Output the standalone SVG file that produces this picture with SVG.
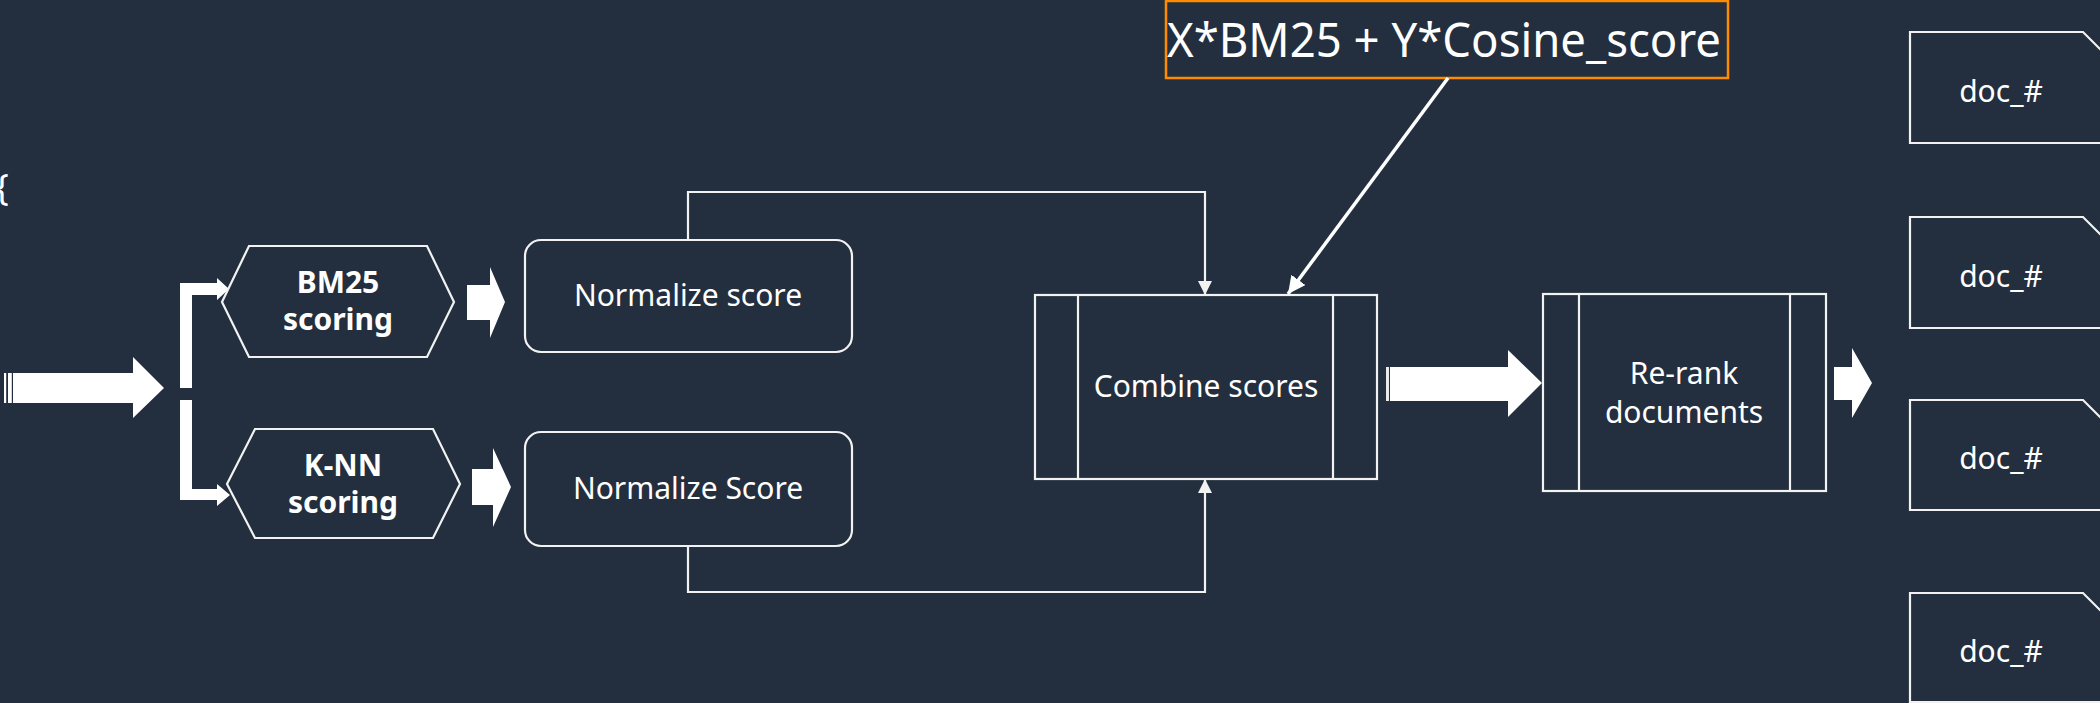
<svg xmlns="http://www.w3.org/2000/svg" width="2100" height="703" viewBox="0 0 2100 703">
<defs>
<style>
.bg{fill:#232f3e}
.box{fill:#232f3e;stroke:#f2f2f2;stroke-width:2.2}
.ln{fill:none;stroke:#f2f2f2;stroke-width:2.2}
.blk{fill:#ffffff}
.t{font-family:"Noto Sans","Open Sans","DejaVu Sans",sans-serif;fill:#ffffff;text-anchor:middle;font-size:30px}
.b{font-weight:bold}
</style>
<marker id="ah" viewBox="0 0 10 10" refX="10" refY="5" markerWidth="6.5" markerHeight="6.5" orient="auto" markerUnits="strokeWidth">
<path d="M0,0 L10,5 L0,10 Z" fill="#f2f2f2"/>
</marker>
<marker id="ah2" viewBox="0 0 10 10" refX="10" refY="5" markerWidth="5" markerHeight="5" orient="auto" markerUnits="strokeWidth">
<path d="M0,0 L10,5 L0,10 Z" fill="#ffffff"/>
</marker>
</defs>
<rect class="bg" x="0" y="0" width="2100" height="703"/>

<text class="t" x="-5" y="200" style="text-anchor:start;font-size:36px">{</text>

<g id="input-arrow">
<rect class="blk" x="4" y="373" width="2.2" height="30"/>
<rect class="blk" x="8" y="373" width="3.8" height="30"/>
<polygon class="blk" points="13,373 133,373 133,357 164,388 133,418 133,403 13,403"/>
</g>

<g id="split-arrows">
<polygon class="blk" points="180,388 180,283 217,283 217,278 229,289 217,300 217,295 192,295 192,388"/>
<polygon class="blk" points="180,400 192,400 192,489 217,489 217,484 230,495 217,506 217,500 180,500"/>
</g>

<g id="bm25">
<polygon class="box" points="222,302 249,246 427,246 454,302 427,357 249,357"/>
<text class="t b" x="338" y="293">BM25</text>
<text class="t b" x="338" y="330">scoring</text>
</g>

<g id="knn">
<polygon class="box" points="227,484 255,429 433,429 460,484 433,538 255,538"/>
<text class="t b" x="343" y="476">K-NN</text>
<text class="t b" x="343" y="513">scoring</text>
</g>

<g id="arrow-bm25">
<polygon class="blk" points="467,285 490,285 490,267 505,302 490,338 490,320 467,320"/>
</g>
<g id="arrow-knn">
<polygon class="blk" points="472,469 493,469 493,448 511,487 493,527 493,505 472,505"/>
</g>

<g id="normalize-1">
<rect class="box" x="525" y="240" width="327" height="112" rx="16"/>
<text class="t" x="688" y="306">Normalize score</text>
</g>

<g id="normalize-2">
<rect class="box" x="525" y="432" width="327" height="114" rx="16"/>
<text class="t" x="688" y="499">Normalize Score</text>
</g>

<g id="combine">
<rect class="box" x="1035" y="295" width="342" height="184"/>
<line class="ln" x1="1078" y1="295" x2="1078" y2="479"/>
<line class="ln" x1="1333" y1="295" x2="1333" y2="479"/>
<text class="t" x="1206" y="397">Combine scores</text>
</g>

<g id="arrow-combine">
<rect class="blk" x="1386" y="367" width="3" height="34" opacity="0.9"/>
<polygon class="blk" points="1390,367 1508,367 1508,350 1542,383 1508,417 1508,401 1390,401"/>
</g>

<g id="rerank">
<rect class="box" x="1543" y="294" width="283" height="197"/>
<line class="ln" x1="1579" y1="294" x2="1579" y2="491"/>
<line class="ln" x1="1790" y1="294" x2="1790" y2="491"/>
<text class="t" x="1684" y="384">Re-rank</text>
<text class="t" x="1684" y="423">documents</text>
</g>

<g id="arrow-rerank">
<polygon class="blk" points="1834,367 1852,367 1852,348 1872,383 1852,418 1852,400 1834,400"/>
</g>

<g id="formula">
<rect x="1166" y="1" width="562" height="77" fill="#232f3e" stroke="#ff8c00" stroke-width="2.5"/>
<text class="t" x="1444" y="57" style="font-size:48px" textLength="554" lengthAdjust="spacingAndGlyphs">X*BM25 + Y*Cosine_score</text>
</g>

<g id="doc-1">
<path class="box" d="M1910,32 H2083 L2113,62 V143 H1910 Z"/>
<text class="t" x="2001" y="102">doc_#</text>
</g>
<g id="doc-2">
<path class="box" d="M1910,217 H2083 L2113,247 V328 H1910 Z"/>
<text class="t" x="2001" y="287">doc_#</text>
</g>
<g id="doc-3">
<path class="box" d="M1910,400 H2083 L2113,430 V510 H1910 Z"/>
<text class="t" x="2001" y="469">doc_#</text>
</g>
<g id="doc-4">
<path class="box" d="M1910,593 H2083 L2113,623 V702 H1910 Z"/>
<text class="t" x="2001" y="662">doc_#</text>
</g>

<g id="connectors">
<polyline class="ln" points="688,240 688,192 1205,192 1205,295" marker-end="url(#ah)"/>
<polyline class="ln" points="688,546 688,592 1205,592 1205,479" marker-end="url(#ah)"/>
<line x1="1448" y1="78" x2="1288" y2="294" stroke="#ffffff" stroke-width="3.5" marker-end="url(#ah2)"/>
</g>
</svg>
